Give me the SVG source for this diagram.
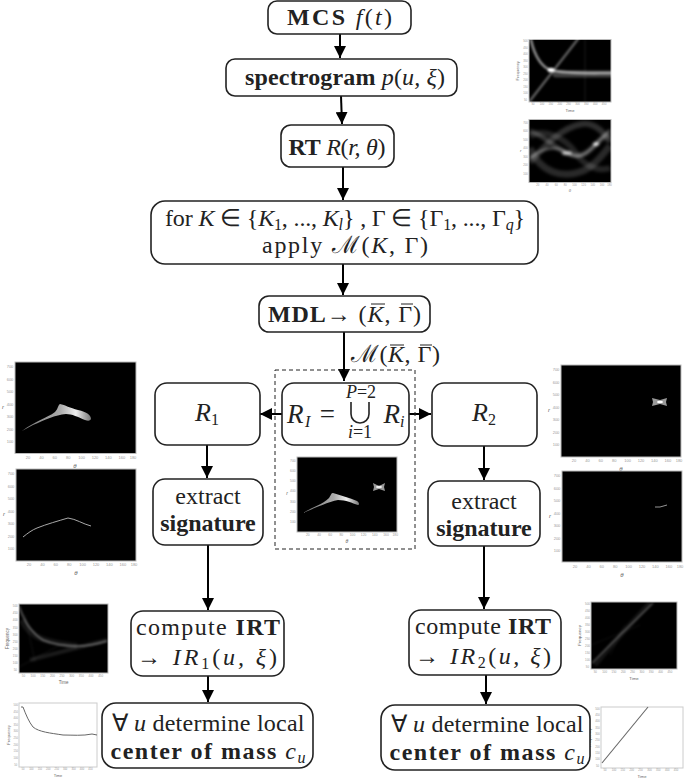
<svg xmlns="http://www.w3.org/2000/svg" width="685" height="780" viewBox="0 0 685 780">
<style>
.box{fill:#fff;stroke:#222;stroke-width:1.6}
.t{font-family:"Liberation Serif",serif;font-size:24px;fill:#222;text-anchor:middle}
.b{font-weight:bold}
.i{font-style:italic}
.s{font-size:16px}
.bar{stroke:#222;stroke-width:1;fill:none}
.con{stroke:#000;stroke-width:2;fill:none;marker-end:url(#arr)}
.tk{font-family:"Liberation Sans",sans-serif;font-size:4px;fill:#999;text-anchor:middle}
.lb{font-family:"Liberation Sans",sans-serif;font-size:6px;fill:#666;text-anchor:middle}
.frame{fill:#000;stroke:#bbb;stroke-width:1}
.wframe{fill:#fff;stroke:#ccc;stroke-width:1}
.glow{fill:none;stroke:#fff;stroke-linecap:round}
</style>
<defs>
<marker id="arr" markerUnits="userSpaceOnUse" markerWidth="13" markerHeight="12" refX="12" refY="6" orient="auto"><path d="M0,0L12,6L0,12Z" fill="#000"/></marker>
<filter id="bl" x="-20%" y="-20%" width="140%" height="140%"><feGaussianBlur stdDeviation="1"/></filter>
<filter id="bl2" x="-20%" y="-20%" width="140%" height="140%"><feGaussianBlur stdDeviation="1.500"/></filter>
<filter id="bl3" x="-20%" y="-20%" width="140%" height="140%"><feGaussianBlur stdDeviation="0.5"/></filter>
<linearGradient id="blob" x1="0" x2="1" y1="0" y2="0"><stop offset="0" stop-color="#777"/><stop offset="0.55" stop-color="#aaa"/><stop offset="0.78" stop-color="#eee"/><stop offset="1" stop-color="#777"/></linearGradient>
<g id="rtaxes">
<g class="tk"><text x="13" y="97">20</text><text x="26.4" y="97">40</text><text x="39.8" y="97">60</text><text x="53.2" y="97">80</text><text x="66.6" y="97">100</text><text x="80" y="97">120</text><text x="93.4" y="97">140</text><text x="106.8" y="97">160</text><text x="118" y="97">180</text>
<text x="-5" y="81">100</text><text x="-5" y="68.5">200</text><text x="-5" y="56">300</text><text x="-5" y="43.5">400</text><text x="-5" y="31">500</text><text x="-5" y="18.5">600</text><text x="-5" y="6">700</text></g>
<text class="lb i" x="-12" y="47">r</text><text class="lb i" x="60" y="106">θ</text>
</g>
<g id="tfaxes">
<g class="tk"><text x="6" y="97">50</text><text x="19" y="97">100</text><text x="32" y="97">150</text><text x="45" y="97">200</text><text x="58" y="97">250</text><text x="71" y="97">300</text><text x="84" y="97">350</text><text x="97" y="97">400</text><text x="110" y="97">450</text>
<text x="-5" y="90">50</text><text x="-5" y="80.5">100</text><text x="-5" y="71">150</text><text x="-5" y="61.4">200</text><text x="-5" y="51.9">250</text><text x="-5" y="42.3">300</text><text x="-5" y="32.8">350</text><text x="-5" y="23.2">400</text><text x="-5" y="13.7">450</text><text x="-5" y="4.1">500</text></g>
<text class="lb" x="60" y="107">Time</text><text class="lb" transform="translate(-14,46) rotate(-90)">Frequency</text>
</g>
</defs>
<rect width="685" height="780" fill="#fff"/>

<g id="plots">
<g id="plot-spectrogram">
<rect class="frame" x="529" y="39.500" width="82" height="62.500"/>
<g filter="url(#bl)"><path class="glow" stroke-width="2.600" stroke-opacity="0.55" d="M531,40C535,58 543,68 551,70C565,74 590,73 611,73"/><path class="glow" stroke-width="2.400" stroke-opacity="0.38" d="M529,102L578,39"/><path class="glow" stroke-width="7" stroke-opacity="0.25" d="M556,74H611"/><path class="glow" stroke-width="1" stroke-opacity="0.1" d="M585,40V102"/><ellipse cx="551" cy="70" rx="3.500" ry="2.200" fill="#fff"/></g>
<use href="#tfaxes" transform="translate(529,39.500) scale(0.683,0.68)"/></g>
<g id="plot-radon">
<rect class="frame" x="529" y="119.500" width="82" height="63"/>
<g filter="url(#bl2)" fill="none" stroke="#fff"><path stroke-width="3" stroke-opacity="0.3" d="M530,158C545,146 558,146 567,153C578,160 586,155 596,144C602,137 607,133 610,130"/><path stroke-width="5" stroke-opacity="0.2" d="M530,131C545,136 555,148 567,153C582,160 590,150 596,144C602,138 607,135 610,136"/><path stroke-width="6" stroke-opacity="0.18" d="M530,162C545,146 560,128 582,124C592,122 603,130 610,142"/><path stroke-width="7" stroke-opacity="0.16" d="M530,148C540,172 562,180 585,170C598,163 604,152 610,146"/><path stroke-width="6" stroke-opacity="0.14" d="M530,136C545,128 565,138 575,152C584,166 598,172 610,168"/><ellipse cx="596" cy="144" rx="3" ry="1.800" fill="#fff" stroke="none"/><ellipse cx="567" cy="153" rx="5" ry="2" fill="#ccc" stroke="none"/></g>
<use href="#rtaxes" transform="translate(529,119.500) scale(0.683,0.685)"/></g>
<g id="plot-r1">
<rect class="frame" x="15" y="362" width="121" height="91.500"/>
<path filter="url(#bl3)" fill="url(#blob)" d="M22,431C35,421 47,418 55,412C58,409 58,405 60,404C65,405 70,408 78,410C87,412 91,415 91,419C90,421 88,421 85,420C78,417 72,414 66,414C55,415 45,420 33,425Z"/>
<use href="#rtaxes" transform="translate(15,362)"/></g>
<g id="plot-sig1">
<rect class="frame" x="16" y="469" width="120" height="92"/>
<path filter="url(#bl3)" fill="none" stroke="#bbb" stroke-width="0.900" d="M23,537C28,533 32,530 37,528C47,524 58,521 68,518C76,519 83,524 91,526"/>
<use href="#rtaxes" transform="translate(16,469)"/></g>
<g id="plot-ri">
<rect class="frame" x="297" y="457" width="100" height="75"/>
<g filter="url(#bl3)"><path fill="url(#blob)" d="M303,513C312,507 322,505 329,498C331,495 331,493 333,493C340,495 350,498 357,501C360,503 359,505 358,505C352,503 346,500 338,500C328,502 315,508 303,513Z"/><path fill="#999" d="M373,483L379,486L385,483L384,487L385,491L379,489L373,491L374,487Z"/><ellipse cx="379" cy="487" rx="3" ry="1.200" fill="#eee"/></g>
<use href="#rtaxes" transform="translate(297,457) scale(0.833,0.815)"/></g>
<g id="plot-r2">
<rect class="frame" x="561" y="365" width="120" height="92"/>
<g filter="url(#bl3)"><path fill="#999" d="M652,398L660,400L667,398L666,402L667,406L660,404L652,406L653,402Z"/><ellipse cx="660" cy="402" rx="3" ry="1.300" fill="#fff"/></g>
<use href="#rtaxes" transform="translate(561,365)"/></g>
<g id="plot-sig2">
<rect class="frame" x="562" y="471" width="120" height="91"/>
<path filter="url(#bl3)" fill="none" stroke="#bbb" stroke-width="0.800" d="M655,507L660,507L667,505"/>
<use href="#rtaxes" transform="translate(562,471)"/></g>
<g id="plot-irt1">
<rect class="frame" x="19" y="604" width="89" height="69"/>
<g filter="url(#bl)" fill="none" stroke="#fff"><path stroke-width="1.500" stroke-opacity="0.4" d="M19,606C25,624 33,634 43,640C55,645 65,646 77,646C88,646 98,644 107,641"/><path stroke-width="6" stroke-opacity="0.08" d="M22,620C30,638 45,642 77,646"/><path stroke-width="4" stroke-opacity="0.1" d="M30,660L107,640"/><path stroke-width="1" stroke-opacity="0.07" d="M19,667L60,645M25,615L35,662"/></g>
<use href="#tfaxes" transform="translate(19,604) scale(0.742,0.75)"/></g>
<g id="plot-com1">
<rect class="wframe" x="19" y="703" width="78" height="64"/>
<path filter="url(#bl3)" fill="none" stroke="#666" stroke-width="1" d="M21,707L23,707C26,715 29,722 33,727C39,732 50,733 63,735C72,735 83,736 92,734L97,735"/>
<use href="#tfaxes" transform="translate(19,703) scale(0.65,0.695)"/></g>
<g id="plot-irt2">
<rect class="frame" x="591" y="602" width="86" height="67"/>
<g filter="url(#bl)" fill="none" stroke="#fff"><path stroke-width="1.500" stroke-opacity="0.3" d="M592,663L618,637L653,603"/><path stroke-width="5" stroke-opacity="0.08" d="M595,665C605,652 625,630 650,603"/><path stroke-width="1" stroke-opacity="0.06" d="M591,645L640,625M610,655L625,625"/></g>
<use href="#tfaxes" transform="translate(591,602) scale(0.717,0.728)"/></g>
<g id="plot-com2">
<rect class="wframe" x="601" y="707" width="82" height="61"/>
<path filter="url(#bl3)" fill="none" stroke="#666" stroke-width="1.100" d="M602,763L648,707"/>
<use href="#tfaxes" transform="translate(601,707) scale(0.683,0.663)"/></g>
</g>

<g id="connectors">
<path class="con" d="M340,34V58"/>
<path class="con" d="M341,96L342,124"/>
<path class="con" d="M343,167V200"/>
<path class="con" d="M343,264V295"/>
<path class="con" d="M344,332V381"/>
<path class="con" d="M282,414H260"/>
<path class="con" d="M409,414H431"/>
<path class="con" d="M207,445V478"/>
<path class="con" d="M484,446V480"/>
<path class="con" d="M208,545V610"/>
<path class="con" d="M484,546V609"/>
<path class="con" d="M208,676V702"/>
<path class="con" d="M486,675V704"/>
<text class="t" x="395.500" y="362" textLength="89">ℳ(<tspan class="i">K</tspan>, Γ)</text>
<path class="bar" d="M390,345H404M420,345H432"/>
</g>
<rect id="group-box" x="275" y="370" width="140" height="179" fill="none" stroke="#222" stroke-width="1" stroke-dasharray="4 3"/>

<g id="n-mcs"><rect class="box" x="268" y="1" width="143" height="33" rx="9"/><text class="t" x="339.500" y="25" textLength="105"><tspan class="b">MCS</tspan> <tspan class="i">f</tspan>(<tspan class="i">t</tspan>)</text></g>
<g id="n-spec"><rect class="box" x="226" y="59" width="231" height="37" rx="9"/><text class="t" x="345" y="85" textLength="200"><tspan class="b">spectrogram</tspan> <tspan class="i">p</tspan>(<tspan class="i">u, ξ</tspan>)</text></g>
<g id="n-rt"><rect class="box" x="281" y="125" width="113" height="42" rx="10"/><text class="t" x="337" y="155" textLength="97"><tspan class="b">RT</tspan> <tspan class="i">R</tspan>(<tspan class="i">r, θ</tspan>)</text></g>
<g id="n-apply"><rect class="box" x="151" y="201" width="387" height="63" rx="14"/><text class="t" x="345" y="226" textLength="360">for <tspan class="i">K</tspan> ∈ {<tspan class="i">K</tspan><tspan class="s" dy="4">1</tspan><tspan dy="-4">, ..., </tspan><tspan class="i">K</tspan><tspan class="s i" dy="4">l</tspan><tspan dy="-4">} , Γ ∈ {Γ</tspan><tspan class="s" dy="4">1</tspan><tspan dy="-4">, ..., Γ</tspan><tspan class="s i" dy="4">q</tspan><tspan dy="-4">}</tspan></text><text class="t" x="345" y="253" textLength="166">apply ℳ(<tspan class="i">K</tspan>, Γ)</text></g>
<g id="n-mdl"><rect class="box" x="259" y="296" width="171" height="36" rx="10"/><text class="t" x="344.500" y="322" textLength="153"><tspan class="b">MDL</tspan>→ (<tspan class="i">K</tspan>, Γ)</text><path class="bar" d="M371,304H385M401,304H413"/></g>
<g id="n-r1"><rect class="box" x="155" y="383" width="105" height="62" rx="12"/><text class="t" x="207" y="421" style="font-size:26px"><tspan class="i">R</tspan><tspan class="s" dy="4">1</tspan></text></g>
<g id="n-ri"><rect class="box" x="282" y="383" width="127" height="62" rx="12"/>
<text class="t" x="311" y="423" style="font-size:27px" textLength="48"><tspan class="i">R</tspan><tspan class="s i" dy="4">I</tspan><tspan dy="-4"> =</tspan></text>
<path d="M351,402V414A9,9 0 0 0 369,414V402" fill="none" stroke="#222" stroke-width="1.600"/>
<text class="t i" x="361" y="398" style="font-size:18px">P<tspan font-style="normal">=2</tspan></text>
<text class="t i" x="360" y="438" style="font-size:18px">i<tspan font-style="normal">=1</tspan></text>
<text class="t" x="394" y="423" style="font-size:27px"><tspan class="i">R</tspan><tspan class="s i" dy="4">i</tspan></text></g>
<g id="n-r2"><rect class="box" x="432" y="383" width="105" height="63" rx="12"/><text class="t" x="484" y="421" style="font-size:26px"><tspan class="i">R</tspan><tspan class="s" dy="4">2</tspan></text></g>
<g id="n-ext1"><rect class="box" x="153" y="479" width="110" height="66" rx="12"/><text class="t" x="208" y="504">extract</text><text class="t b" x="208" y="531">signature</text></g>
<g id="n-ext2"><rect class="box" x="428" y="481" width="112" height="65" rx="12"/><text class="t" x="484" y="509">extract</text><text class="t b" x="484" y="536">signature</text></g>
<g id="n-irt1"><rect class="box" x="131" y="611" width="153" height="65" rx="12"/><text class="t" x="208" y="635" textLength="144">compute <tspan class="b">IRT</tspan></text><text class="t" x="207" y="665" textLength="140">→ <tspan class="i">IR</tspan><tspan class="s" dy="4">1</tspan><tspan dy="-4">(</tspan><tspan class="i">u, ξ</tspan>)</text></g>
<g id="n-irt2"><rect class="box" x="409" y="610" width="152" height="65" rx="12"/><text class="t" x="483" y="634" textLength="136">compute <tspan class="b">IRT</tspan></text><text class="t" x="483" y="664" textLength="136">→ <tspan class="i">IR</tspan><tspan class="s" dy="4">2</tspan><tspan dy="-4">(</tspan><tspan class="i">u, ξ</tspan>)</text></g>
<g id="n-com1"><rect class="box" x="102" y="703" width="211" height="65" rx="14"/><text class="t" x="208" y="731" textLength="193">∀ <tspan class="i">u</tspan> determine local</text><text class="t" x="208" y="759" textLength="195"><tspan class="b">center of mass</tspan> <tspan class="i">c</tspan><tspan class="s i" dy="4">u</tspan></text></g>
<g id="n-com2"><rect class="box" x="381" y="705" width="209" height="65" rx="14"/><text class="t" x="487" y="732" textLength="193">∀ <tspan class="i">u</tspan> determine local</text><text class="t" x="487" y="760" textLength="195"><tspan class="b">center of mass</tspan> <tspan class="i">c</tspan><tspan class="s i" dy="4">u</tspan></text></g>
</svg>
